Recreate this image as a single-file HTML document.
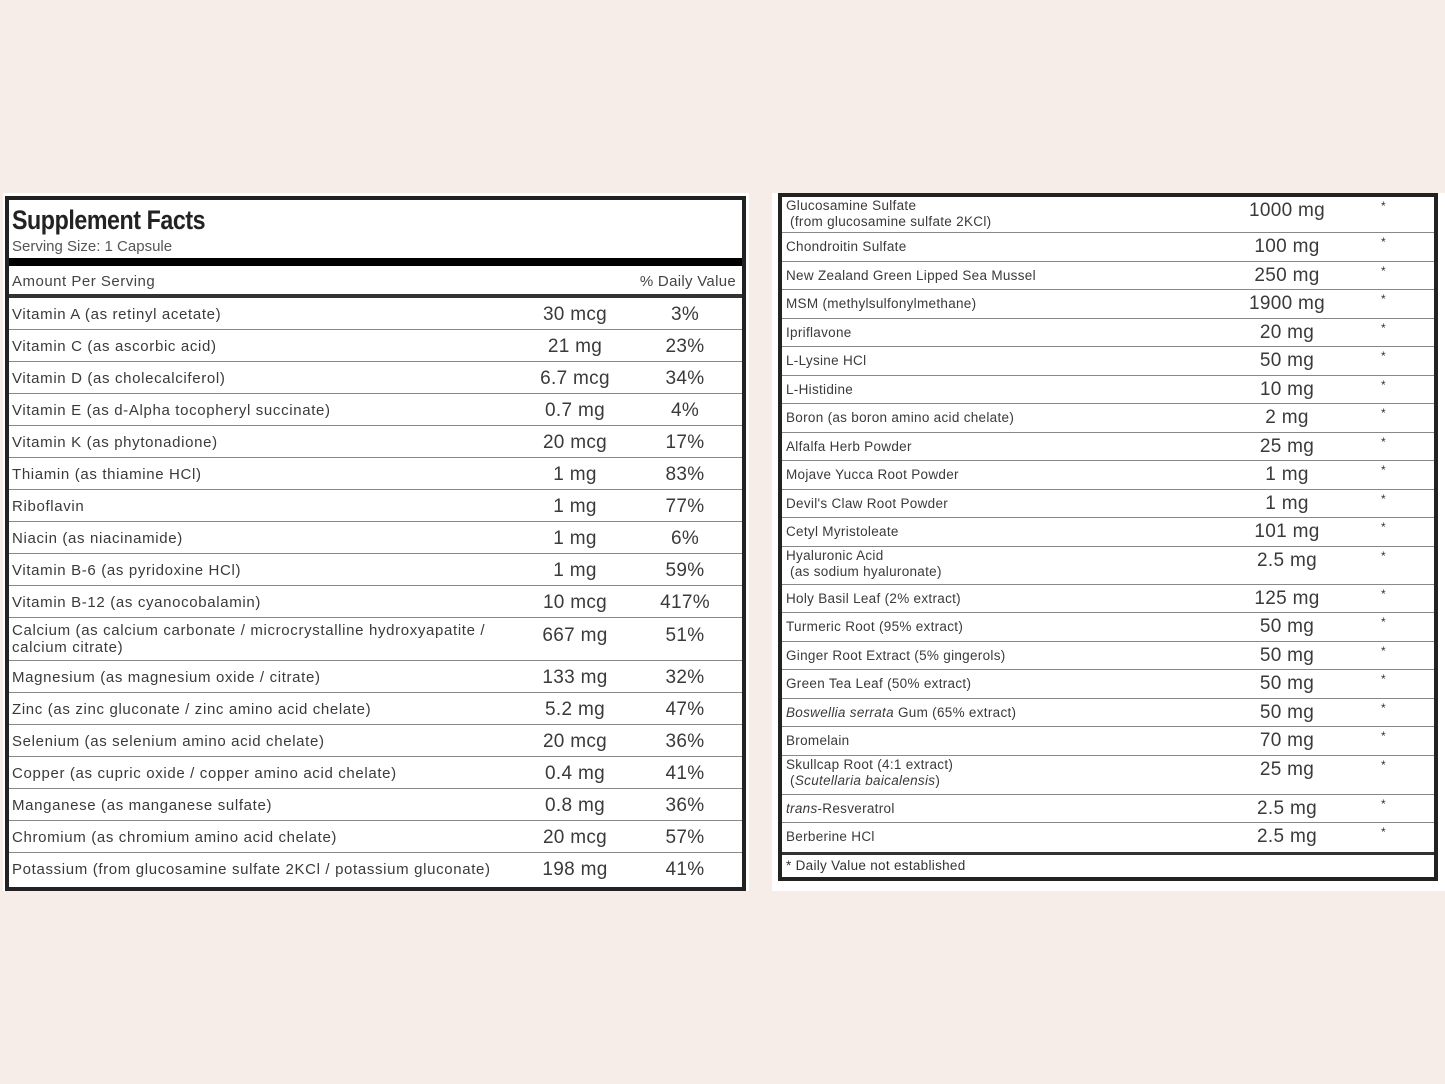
<!DOCTYPE html>
<html><head><meta charset="utf-8"><style>
body{margin:0;width:1445px;height:1084px;background:#f6ece8;position:relative;overflow:hidden;font-family:"Liberation Sans",sans-serif;color:#333}
.p{position:absolute;background:#fff}
.b{position:absolute;border:4px solid #222;box-sizing:border-box}
.r{position:absolute;box-sizing:border-box;border-bottom:1px solid #888}
.n{position:absolute;font-size:15px;line-height:17px;letter-spacing:0.65px;color:#3a3a3a}
.a{position:absolute;text-align:center;font-size:19px;width:120px;color:#3a3a3a;letter-spacing:0.3px}
.s{position:absolute;font-size:12px}
.rn{position:absolute;font-size:13.5px;line-height:16px;letter-spacing:0.3px;color:#3a3a3a}
</style></head><body>
<div class="p" style="left:3px;top:193px;width:746px;height:698px"></div>
<div class="b" style="left:5px;top:196px;width:741px;height:695px"></div>
<div style="position:absolute;left:12px;top:205px;font-size:27px;font-weight:bold;color:#222;transform:scaleX(.86);transform-origin:left;letter-spacing:-0.5px">Supplement Facts</div>
<div style="position:absolute;left:12px;top:238px;font-size:15px;color:#555">Serving Size: 1 Capsule</div>
<div style="position:absolute;left:9px;top:258px;width:733px;height:8px;background:#000"></div>
<div style="position:absolute;left:12px;top:273px;font-size:15px;color:#444;letter-spacing:0.5px">Amount Per Serving</div>
<div style="position:absolute;right:709px;top:273px;font-size:15px;color:#444;letter-spacing:0.3px">% Daily Value</div>
<div style="position:absolute;left:9px;top:294px;width:733px;height:4px;background:#333"></div>
<div id="L"></div>
<div class="p" style="left:772px;top:193px;width:673px;height:698px"></div>
<div class="b" style="left:778px;top:193px;width:660px;height:688px"></div>
<div id="R"></div>
<div style="position:absolute;left:782px;top:852px;width:652px;height:3px;background:#333"></div>
<div style="position:absolute;left:786px;top:858px;font-size:13.5px;letter-spacing:0.3px">* Daily Value not established</div>
<script>
var L=[["Vitamin A (as retinyl acetate)","30 mcg","3%"],["Vitamin C (as ascorbic acid)","21 mg","23%"],["Vitamin D (as cholecalciferol)","6.7 mcg","34%"],["Vitamin E (as d-Alpha tocopheryl succinate)","0.7 mg","4%"],["Vitamin K (as phytonadione)","20 mcg","17%"],["Thiamin (as thiamine HCl)","1 mg","83%"],["Riboflavin","1 mg","77%"],["Niacin (as niacinamide)","1 mg","6%"],["Vitamin B-6 (as pyridoxine HCl)","1 mg","59%"],["Vitamin B-12 (as cyanocobalamin)","10 mcg","417%"],["Calcium (as calcium carbonate / microcrystalline hydroxyapatite /<br>calcium citrate)","667 mg","51%"],["Magnesium (as magnesium oxide / citrate)","133 mg","32%"],["Zinc (as zinc gluconate / zinc amino acid chelate)","5.2 mg","47%"],["Selenium (as selenium amino acid chelate)","20 mcg","36%"],["Copper (as cupric oxide / copper amino acid chelate)","0.4 mg","41%"],["Manganese (as manganese sulfate)","0.8 mg","36%"],["Chromium (as chromium amino acid chelate)","20 mcg","57%"],["Potassium (from glucosamine sulfate 2KCl / potassium gluconate)","198 mg","41%"]];
var h="",y=298;
L.forEach(function(r,i){var hh=i==10?43:32;var last=i==L.length-1;
h+='<div class="r" style="left:9px;top:'+y+'px;width:733px;height:'+hh+'px;'+(last?'border:none':'')+'"></div>';
h+='<div class="n" style="left:12px;top:'+(y+(i==10?4:8))+'px">'+r[0]+'</div>';
h+='<div class="a" style="left:515px;top:'+(y+(i==10?7:6))+'px">'+r[1]+'</div>';
h+='<div class="a" style="left:625px;top:'+(y+(i==10?7:6))+'px">'+r[2]+'</div>';y+=hh;});
document.getElementById("L").innerHTML=h;
var R=[["Glucosamine Sulfate<br>&nbsp;(from glucosamine sulfate 2KCl)","1000 mg",36],["Chondroitin Sulfate","100 mg",29],["New Zealand Green Lipped Sea Mussel","250 mg",28],["MSM (methylsulfonylmethane)","1900 mg",29],["Ipriflavone","20 mg",28],["L-Lysine HCl","50 mg",29],["L-Histidine","10 mg",28],["Boron (as boron amino acid chelate)","2 mg",29],["Alfalfa Herb Powder","25 mg",28],["Mojave Yucca Root Powder","1 mg",29],["Devil's Claw Root Powder","1 mg",28],["Cetyl Myristoleate","101 mg",29],["Hyaluronic Acid<br>&nbsp;(as sodium hyaluronate)","2.5 mg",38],["Holy Basil Leaf (2% extract)","125 mg",28],["Turmeric Root (95% extract)","50 mg",29],["Ginger Root Extract (5% gingerols)","50 mg",28],["Green Tea Leaf (50% extract)","50 mg",29],["<i>Boswellia serrata</i> Gum (65% extract)","50 mg",28],["Bromelain","70 mg",29],["Skullcap Root (4:1 extract)<br>&nbsp;(<i>Scutellaria baicalensis</i>)","25 mg",39],["<i>trans</i>-Resveratrol","2.5 mg",28],["Berberine HCl","2.5 mg",29]];
h="";y=197;
R.forEach(function(r,i){var two=r[2]>35,last=i==R.length-1;
h+='<div class="r" style="left:782px;top:'+y+'px;width:652px;height:'+r[2]+'px;'+(last?'border:none':'')+'"></div>';
h+='<div class="rn" style="left:786px;top:'+(y+(two?1:6))+'px">'+r[0]+'</div>';
h+='<div class="a" style="left:1227px;top:'+(y+3)+'px">'+r[1]+'</div>';
h+='<div class="s" style="left:1381px;top:'+(y+2)+'px">*</div>';y+=r[2];});
document.getElementById("R").innerHTML=h;
</script>
</body></html>
